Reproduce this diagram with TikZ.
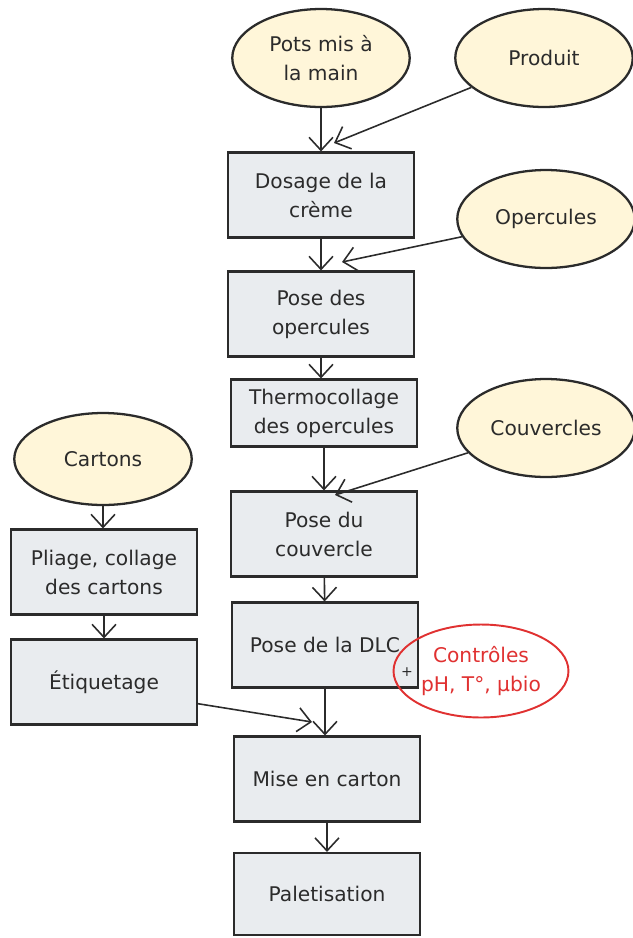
\documentclass[tikz,border=0pt]{standalone}
\usepackage{fontspec}
\setmainfont{DejaVu Sans}
\usetikzlibrary{arrows.meta,positioning,shapes.geometric}
\definecolor{boxgray}{HTML}{E9ECEF}
\definecolor{creamfill}{HTML}{FFF6D9}
\definecolor{ctrlred}{HTML}{E03131}
\definecolor{inkgray}{HTML}{2B2B2B}

\begin{document}
\begin{tikzpicture}[
        x=0.02cm, y=-0.02cm,
        font=\fontsize{11.5}{16.5}\selectfont,
        process/.style={rectangle, draw=inkgray, fill=boxgray, line width=1.2pt, text=inkgray, align=center, minimum width=3.72cm, minimum height=1.7cm},
        supply/.style={ellipse, draw=inkgray, fill=creamfill, line width=1.3pt, text=inkgray, align=center, minimum width=3.55cm, minimum height=1.96cm, inner sep=0pt},
        check/.style={ellipse, draw=ctrlred, line width=1.1pt, text=ctrlred, align=center, minimum width=3.5cm, minimum height=1.86cm, inner sep=0pt},
        flow/.style={-{Straight Barb[length=2.6mm,width=4.8mm]}, line width=0.9pt, draw=inkgray}
    ]
        \useasboundingbox (0,0) rectangle (633,938);

        % Supplies
        \node[supply] (pots) at (321,58) {Pots mis à\\la main};
        \node[supply] (produit) at (544,58) {Produit};
        \node[supply] (operc) at (546,219) {Opercules};
        \node[supply] (couvercles) at (546,428) {Couvercles};
        \node[supply, minimum height=1.84cm] (cartons) at (103,459) {Cartons};

        % Main line
        \node[process] (dosage) at (321,195) {Dosage de la\\crème};
        \node[process] (poseop) at (321,314) {Pose des\\opercules};
        \node[process, minimum height=1.34cm] (thermo) at (324,413) {Thermocollage\\des opercules};
        \node[process] (posecouv) at (324,534) {Pose du\\couvercle};
        \node[process] (dlc) at (325,645) {Pose de la DLC};
        \node[process] (miseen) at (327,779) {Mise en carton};
        \node[process, minimum height=1.64cm] (palet) at (327,894) {Paletisation};

        % Carton line
        \node[process] (pliage) at (104,572) {Pliage, collage\\des cartons};
        \node[process] (etiq) at (104,682) {Étiquetage};

        % Controls
        \node[check, font=\fontsize{11.5}{16}\selectfont] (ctrl) at (481,671) {Contrôles\\pH, T°, µbio};
        \node[text=inkgray, font=\fontsize{8}{8}\selectfont, inner sep=0pt] (plus) at (407,672) {+};

        % Side inputs
        \coordinate (inprod) at (334,143);
        \coordinate (inoperc) at (342,262);
        \coordinate (incouv) at (335,495);
        \coordinate (inetiq) at (312,722);

        % Main flow
        \draw[flow] (pots) -- (pots |- dosage.north);
        \draw[flow] (dosage) -- (poseop);
        \draw[flow] (poseop) -- (poseop |- thermo.north);
        \draw[flow] (thermo) -- (posecouv);
        \draw[flow] (posecouv) -- (dlc);
        \draw[flow] (dlc) -- (dlc |- miseen.north);
        \draw[flow] (miseen) -- (palet);

        % Carton flow
        \draw[flow] (cartons) -- (cartons |- pliage.north);
        \draw[flow] (pliage) -- (etiq);

        % Inputs
        \draw[flow] (produit) -- (inprod);
        \draw[flow] (operc) -- (inoperc);
        \draw[flow] (couvercles) -- (incouv);
        \draw[flow] (etiq.-13) -- (inetiq);
    \end{tikzpicture}
\end{document}
